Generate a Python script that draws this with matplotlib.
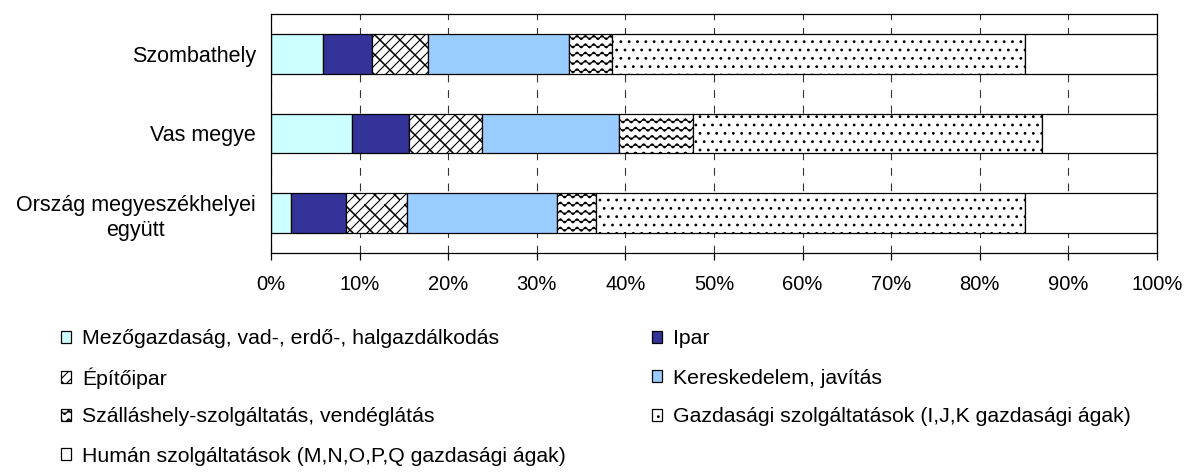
import numpy as np
import matplotlib
matplotlib.use('Agg')
import matplotlib.pyplot as plt
import matplotlib.hatch as mhatch
from matplotlib.path import Path

plt.rcParams['font.family'] = ['Liberation Sans', 'DejaVu Sans']
plt.rcParams['font.size'] = 15
plt.rcParams['hatch.linewidth'] = 0.8

# adatok (%), felülről lefelé
places = ['Szombathely', 'Vas megye', 'Ország megyeszékhelyei\negyütt']
sectors = ['Mezőgazdaság, vad-, erdő-, halgazdálkodás',
           'Ipar',
           'Építőipar',
           'Kereskedelem, javítás',
           'Szálláshely-szolgáltatás, vendéglátás',
           'Gazdasági szolgáltatások (I,J,K gazdasági ágak)',
           'Humán szolgáltatások (M,N,O,P,Q gazdasági ágak)']
mezogazdasag = [5.9, 9.1, 2.3]
ipar = [5.45, 6.5, 6.2]
epitoipar = [6.35, 8.2, 6.8]
kereskedelem = [15.9, 15.5, 17.0]
szallashely = [4.9, 8.3, 4.4]
gazdasagi = [46.6, 39.4, 48.4]
human = [14.9, 13.0, 14.9]
xticks = ['0%', '10%', '20%', '30%', '40%', '50%', '60%', '70%', '80%', '90%', '100%']


# hullámos minta ('O' helyett)
class Waves(mhatch.HatchPatternBase):
    def __init__(self, hatch, density):
        self.rows = hatch.count('O') * 12
        self.pts = 97
        self.num_vertices = self.rows * self.pts

    def set_vertices_and_codes(self, vertices, codes):
        t = np.linspace(0, 1, self.pts)
        k = 0
        for i in range(self.rows):
            vertices[k:k + self.pts, 0] = t
            vertices[k:k + self.pts, 1] = (i + 0.5) / self.rows + 0.02 * np.sin(2 * np.pi * 12 * t)
            codes[k] = Path.MOVETO
            codes[k + 1:k + self.pts] = Path.LINETO
            k += self.pts


# ferde tégla minta ('o' helyett)
class Bricks(mhatch.HatchPatternBase):
    def __init__(self, hatch, density):
        self.n = 10 if 'o' in hatch else 0
        if self.n:
            self.num_vertices = 2 * (2 * self.n + 1) + 2 * 4 * (2 * self.n) * self.n
        else:
            self.num_vertices = 0

    def set_vertices_and_codes(self, vertices, codes):
        n = self.n
        if not n:
            return
        k = 0
        for i in range(-n, n + 1):
            c = i / n
            vertices[k] = [max(0, c), max(0, -c)]
            vertices[k + 1] = [min(1, 1 + c), min(1, 1 - c)]
            codes[k], codes[k + 1] = Path.MOVETO, Path.LINETO
            k += 2
        for i in range(-n, n):
            c = i / n
            for j in range(n):
                t = (j + 0.5 * (i % 2)) / n
                x0, y0 = (t + c) % 1, t % 1
                for dx, dy in [(0, 0), (-1, 0), (0, -1), (-1, -1)]:
                    vertices[k] = [x0 + dx, y0 + dy]
                    vertices[k + 1] = [x0 + dx + 0.5 / n, y0 + dy - 0.5 / n]
                    codes[k], codes[k + 1] = Path.MOVETO, Path.LINETO
                    k += 2


swap = {mhatch.LargeCircles: Waves, mhatch.SmallCircles: Bricks}
mhatch._hatch_types[:] = [swap.get(h, h) for h in mhatch._hatch_types]

series = [mezogazdasag, ipar, epitoipar, kereskedelem, szallashely, gazdasagi, human]
colors = ['#ccffff', '#333399', 'white', '#99ccff', 'white', 'white', 'white']
hatches = [None, None, 'o', None, 'O', '..', None]

fig = plt.figure(figsize=(11.86, 4.74), dpi=100)
ax = fig.add_axes([271 / 1186, 1 - 253 / 474, (1157 - 271) / 1186, (253 - 14) / 474])

y = np.arange(len(places))
left = np.zeros(len(places))
handles = []
for vals, c, h, name in zip(series, colors, hatches, sectors):
    b = ax.barh(y, vals, left=left, height=0.5, color=c, edgecolor='black',
                linewidth=0.9, hatch=h, label=name, zorder=3)
    handles.append(b)
    left += np.array(vals)

ax.set_xlim(0, 100)
ax.set_ylim(2.5, -0.5)
ax.set_xticks(np.arange(0, 101, 10))
ax.set_xticklabels(xticks, fontsize=14.5)
ax.set_yticks(y)
ax.set_yticklabels(places, fontsize=15.5)
for lab in ax.get_yticklabels():
    lab.set_multialignment('center')
    lab.set_linespacing(1.3)
ax.tick_params(axis='y', length=0, pad=11)
ax.tick_params(axis='x', direction='out', length=5, width=0.9, pad=11)
ax.xaxis.grid(True, linestyle=(0, (7, 7)), color='#333333', linewidth=0.8, zorder=0)
for s in ax.spines.values():
    s.set_linewidth(0.9)
    s.set_zorder(4)

# jelmagyarázat: két oszlop, soronként olvasva, minden tétel külön,
# hogy a sorok egy vonalban legyenek
for i, (hnd, name) in enumerate(zip(handles, sectors)):
    col, row = i % 2, i // 2
    x0 = [61, 652][col]
    y0 = 339 + 39 * row
    leg = fig.legend([hnd], [name], loc='center left',
                     bbox_to_anchor=(x0 / 1186, 1 - y0 / 474),
                     frameon=False, fontsize=15.3, handlelength=0.48,
                     handleheight=0.48, handletextpad=0.5,
                     borderaxespad=0, borderpad=0)

fig.savefig('out.png', dpi=100)
